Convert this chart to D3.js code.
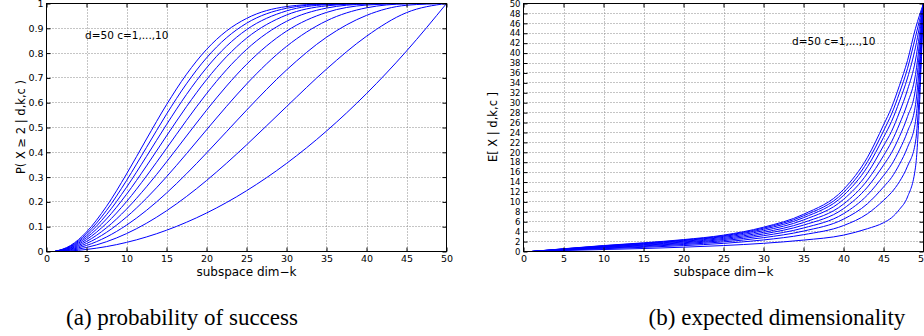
<!DOCTYPE html>
<html>
<head>
<meta charset="utf-8">
<script src="https://cdn.jsdelivr.net/npm/d3@7"></script>
<style>
  body { margin: 0; background: #fff; }
  text { font-family: "DejaVu Sans", sans-serif; }
</style>
</head>
<body>
<div id="chart"></div>
<script>
const width = 924;
const height = 336;

// valeurs de k (dimension du sous-espace)
const kTicks = [0, 5, 10, 15, 20, 25, 30, 35, 40, 45, 50];
const probTicks = [0, 0.1, 0.2, 0.3, 0.4, 0.5, 0.6, 0.7, 0.8, 0.9, 1];
const dimTicks = [0, 2, 4, 6, 8, 10, 12, 14, 16, 18, 20, 22, 24, 26, 28, 30, 32, 34, 36, 38, 40, 42, 44, 46, 48, 50];

// (a) P(X >= 2 | d,k,c), une ligne par c = 1..10
const kProb = [1, 3, 5, 7.5, 10, 12.5, 15, 17.5, 20, 22.5, 25, 30, 35, 40, 45, 50];
const probC1  = [0, .0024, .0082, .0199, .0367, .0587, .0857, .1179, .1551, .1974, .2449, .3551, .4857, .6367, .8082, 1];
const probC2  = [0, .0049, .0163, .0394, .0721, .1139, .1641, .2218, .2861, .3559, .4298, .5841, .7355, .8680, .9632, 1];
const probC3  = [0, .0073, .0243, .0585, .1062, .1659, .2357, .3135, .3969, .4831, .5695, .7318, .8640, .9521, .9929, 1];
const probC4  = [0, .0098, .0323, .0772, .1390, .2148, .3012, .3944, .4904, .5851, .6749, .8270, .9300, .9826, .9986, 1];
const probC5  = [0, .0122, .0402, .0956, .1707, .2609, .3611, .4658, .5695, .6670, .7545, .8885, .9640, .9937, .9997, 1];
const probC6  = [0, .0146, .0480, .1136, .2011, .3043, .4159, .5288, .6363, .7328, .8146, .9281, .9815, .9977, 1, 1];
const probC7  = [0, .0170, .0558, .1312, .2305, .3451, .4659, .5843, .6927, .7856, .8600, .9536, .9905, .9992, 1, 1];
const probC8  = [0, .0194, .0635, .1485, .2588, .3835, .5117, .6333, .7403, .8279, .8943, .9701, .9951, .9997, 1, 1];
const probC9  = [0, .0218, .0711, .1655, .2860, .4197, .5536, .6765, .7806, .8619, .9202, .9807, .9975, .9999, 1, 1];
const probC10 = [0, .0242, .0787, .1821, .3122, .4537, .5918, .7146, .8146, .8892, .9397, .9876, .9987, 1, 1, 1];
const probSeries = [probC1, probC2, probC3, probC4, probC5, probC6, probC7, probC8, probC9, probC10];

// (b) E[X | d,k,c], une ligne par c = 1..10
const kDim = [1, 5, 10, 15, 20, 25, 30, 35, 40, 43, 45, 46, 47, 48, 49, 50];
const dimC1  = [0, .2,   .4,   .6,   .87,  1.2,  1.65, 2.3,  3.3,  4.6,  5.8,  6.8,  8.5,  11,   17,   50];
const dimC2  = [0, .274, .568, .842, 1.19, 1.64, 2.33, 3.39, 5.23, 7.62, 10.3, 11.9, 14.1, 17.2, 22.1, 50];
const dimC3  = [0, .323, .68,  1.0,  1.41, 1.94, 2.79, 4.12, 6.52, 9.64, 13,   14.9, 17.6, 21,   26.2, 50];
const dimC4  = [0, .365, .776, 1.14, 1.59, 2.19, 3.18, 4.74, 7.62, 11.4, 15.3, 17.5, 20.5, 24.2, 29.6, 50];
const dimC5  = [0, .403, .864, 1.27, 1.76, 2.42, 3.54, 5.32, 8.64, 13,   17.4, 19.9, 23.2, 27.2, 32.8, 50];
const dimC6  = [0, .438, .944, 1.38, 1.91, 2.63, 3.86, 5.84, 9.56, 14.4, 19.3, 22.1, 25.7, 29.9, 35.7, 50];
const dimC7  = [0, .473, 1.02, 1.5,  2.06, 2.84, 4.19, 6.36, 10.5, 15.8, 21.3, 24.2, 28.1, 32.6, 38.6, 50];
const dimC8  = [0, .505, 1.1,  1.6,  2.2,  3.03, 4.48, 6.82, 11.3, 17.1, 23,   26.2, 30.3, 35,   41.2, 50];
const dimC9  = [0, .529, 1.15, 1.68, 2.31, 3.17, 4.71, 7.19, 11.9, 18.1, 24.3, 27.7, 32,   36.9, 43.3, 50];
const dimC10 = [0, .55,  1.2,  1.75, 2.4,  3.3,  4.9,  7.5,  12.5, 19,   25.5, 29,   33.5, 38.5, 45,   50];
const dimSeries = [dimC1, dimC2, dimC3, dimC4, dimC5, dimC6, dimC7, dimC8, dimC9, dimC10];

const svg = d3.select("#chart").append("svg")
    .attr("width", width)
    .attr("height", height)
    .style("display", "block")
    .style("background", "#fff");

function panel(opt) {
  const x = d3.scaleLinear().domain([0, 50]).range([opt.left, opt.right]);
  const y = d3.scaleLinear().domain([0, opt.ymax]).range([251.5, 3.5]);
  const g = svg.append("g");

  // grille en pointillés
  g.append("g").selectAll("line")
    .data(kTicks.slice(1, -1))
    .join("line")
      .attr("x1", d => Math.round(x(d)) + 0.5).attr("x2", d => Math.round(x(d)) + 0.5)
      .attr("y1", y(opt.ymax)).attr("y2", y(0))
      .attr("stroke", "#8a8a8a").attr("stroke-dasharray", "1,2");
  g.append("g").selectAll("line")
    .data(opt.yTicks.slice(1, -1))
    .join("line")
      .attr("y1", d => Math.round(y(d) - 0.5) + 0.5).attr("y2", d => Math.round(y(d) - 0.5) + 0.5)
      .attr("x1", x(0)).attr("x2", x(50))
      .attr("stroke", "#8a8a8a").attr("stroke-dasharray", "1,2");

  // courbes
  const line = d3.line()
      .x((d, i) => x(opt.k[i]))
      .y(d => y(d))
      .curve(d3.curveMonotoneX);
  g.append("g").selectAll("path")
    .data(opt.series)
    .join("path")
      .attr("d", line)
      .attr("fill", "none")
      .attr("stroke", "#0000ff")
      .attr("stroke-width", 1);

  // axes (graduations vers l'intérieur)
  const bottom = g.append("g").attr("transform", `translate(0,${y(0)})`)
      .call(d3.axisBottom(x).tickValues(kTicks).tickSizeInner(-4).tickSizeOuter(0).tickPadding(4));
  const top = g.append("g").attr("transform", `translate(0,${y(opt.ymax)})`)
      .call(d3.axisTop(x).tickValues(kTicks).tickSizeInner(-4).tickSizeOuter(0).tickFormat(""));
  const left = g.append("g").attr("transform", `translate(${x(0)},0)`)
      .call(d3.axisLeft(y).tickValues(opt.yTicks).tickSizeInner(-4).tickSizeOuter(0).tickPadding(3)
        .tickFormat(d => d));
  const right = g.append("g").attr("transform", `translate(${x(50)},0)`)
      .call(d3.axisRight(y).tickValues(opt.yTicks).tickSizeInner(-4).tickSizeOuter(0).tickFormat(""));
  [bottom, top, left, right].forEach(a => {
    a.select(".domain").remove();
    a.selectAll("line").attr("stroke", "#000");
  });
  bottom.selectAll("text").attr("font-size", 9.5).attr("font-family", "DejaVu Sans").attr("fill", "#000");
  left.selectAll("text").attr("font-size", opt.yFont).attr("font-family", "DejaVu Sans").attr("fill", "#000");

  g.append("rect")
      .attr("x", x(0)).attr("y", y(opt.ymax))
      .attr("width", x(50) - x(0)).attr("height", y(0) - y(opt.ymax))
      .attr("fill", "none").attr("stroke", "#000").attr("stroke-width", 1);

  g.append("text")
      .attr("x", (opt.left + opt.right) / 2).attr("y", 276)
      .attr("text-anchor", "middle").attr("font-size", 12)
      .text("subspace dim\u2212k");

  g.append("text")
      .attr("transform", `translate(${opt.ylabelX},127) rotate(-90)`)
      .attr("text-anchor", "middle").attr("font-size", 11.5)
      .text(opt.ylabel);

  g.append("text")
      .attr("x", opt.noteX).attr("y", opt.noteY)
      .attr("font-size", 10.5)
      .text("d=50 c=1,...,10");

  svg.append("text")
      .attr("x", opt.captionX).attr("y", 325)
      .attr("text-anchor", "middle")
      .style("font-family", "'Liberation Serif', serif")
      .attr("font-size", 23)
      .text(opt.caption);
}

panel({
  left: 46.5, right: 446.5, ymax: 1, yTicks: probTicks, yFont: 9.5,
  k: kProb, series: probSeries,
  ylabel: "P( X \u2265 2 | d,k,c )", ylabelX: 25,
  noteX: 85, noteY: 39,
  caption: "(a) probability of success", captionX: 182
});

panel({
  left: 523.5, right: 923.5, ymax: 50, yTicks: dimTicks, yFont: 8.5,
  k: kDim, series: dimSeries,
  ylabel: "E[ X | d,k,c ]", ylabelX: 497,
  noteX: 792, noteY: 45,
  caption: "(b) expected dimensionality", captionX: 777
});
</script>
</body>
</html>
